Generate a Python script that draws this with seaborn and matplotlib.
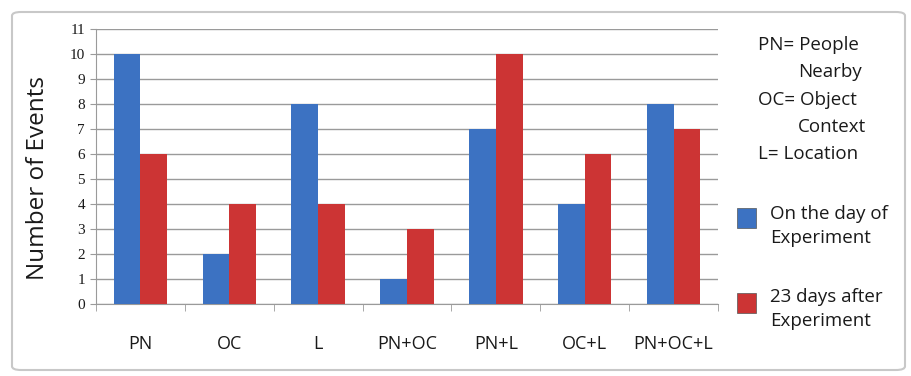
import matplotlib
matplotlib.use("Agg")
import matplotlib.pyplot as plt
import seaborn as sns
import pandas as pd
from matplotlib.patches import FancyBboxPatch, Rectangle

categories = ["PN", "OC", "L", "PN+OC", "PN+L", "OC+L", "PN+OC+L"]
day_of = [10, 2, 8, 1, 7, 4, 8]
after_23 = [6, 4, 4, 3, 10, 6, 7]
series = ["On the day of\nExperiment", "23 days after\nExperiment"]
yticks = list(range(0, 12))

df = pd.DataFrame({
    "cat": categories * 2,
    "val": day_of + after_23,
    "series": [series[0]] * len(categories) + [series[1]] * len(categories),
})

sns.set_style("white")
plt.rcParams['font.family'] = ['Open Sans', 'DejaVu Sans']
plt.rcParams['text.color'] = '#1a1a1a'
plt.rcParams['xtick.color'] = '#1a1a1a'
plt.rcParams['ytick.color'] = '#1a1a1a'
plt.rcParams['axes.labelcolor'] = '#1a1a1a'

fig = plt.figure(figsize=(9.11, 3.76), dpi=100)
fig.patches.append(FancyBboxPatch((12/911, 6/376), 893/911, 358/376,
                                  boxstyle="round,pad=0,rounding_size=0.01",
                                  transform=fig.transFigure, facecolor="none",
                                  edgecolor="#c8c8c8", linewidth=1.5, zorder=0))
ax = fig.add_axes([96/911, 1 - 304/376, 622/911, 275/376])
ax.set_facecolor("none")
palette = {series[0]: "#3C72C2", series[1]: "#CC3434"}
sns.barplot(data=df, x="cat", y="val", hue="series", palette=palette,
            width=0.6, ax=ax, legend=False, saturation=1,
            edgecolor="none", zorder=3)
ax.set_ylim(0, 11)
ax.set_xlim(-0.5, len(categories) - 0.5)
ax.set_yticks(yticks)
ax.set_yticklabels([str(t) for t in yticks], family="Liberation Serif", fontsize=11)
ax.yaxis.grid(True, color="#9a9a9a", linewidth=1, zorder=0)
ax.set_axisbelow(True)
for s in ["top", "right"]:
    ax.spines[s].set_visible(False)
ax.spines["left"].set_color("#9a9a9a")
ax.spines["bottom"].set_color("#9a9a9a")
ax.tick_params(axis="y", length=4, color="#9a9a9a", pad=4, left=True, labelcolor="#1a1a1a")
ax.set_xticks(range(len(categories)))
ax.set_xticklabels(categories, fontsize=13)
ax.tick_params(axis="x", length=0, pad=22)
ax.set_xticks([i + 0.5 for i in range(-1, len(categories))], minor=True)
ax.tick_params(axis="x", which="minor", length=5, color="#9a9a9a", bottom=True)
ax.set_xlabel("")
ax.set_ylabel("")
fig.text(38/911, 1 - 178/376, "Number of Events", fontsize=17.5, rotation=90,
         ha="center", va="center")

# abbreviation legend
lines = [("PN= People", 758), ("Nearby", 798), ("OC= Object", 758), ("Context", 798), ("L= Location", 758)]
ys = [45, 72, 100, 127, 154]
for (t, x), y in zip(lines, ys):
    fig.text(x/911, 1 - y/376, t, fontsize=13.5, va="center", ha="left")

# series legend
leg_y = [226, 309]
sq_y = [218, 303]
for (name, col), y, sy in zip(palette.items(), leg_y, sq_y):
    fig.patches.append(Rectangle((737/911, 1 - (sy + 10)/376), 19/911, 20/376,
                                 transform=fig.transFigure, facecolor=col,
                                 edgecolor="#555555", linewidth=0.5))
    fig.text(770/911, 1 - y/376, name, fontsize=13.5, va="center", ha="left",
             linespacing=1.45)

fig.savefig("out.png", dpi=100)
